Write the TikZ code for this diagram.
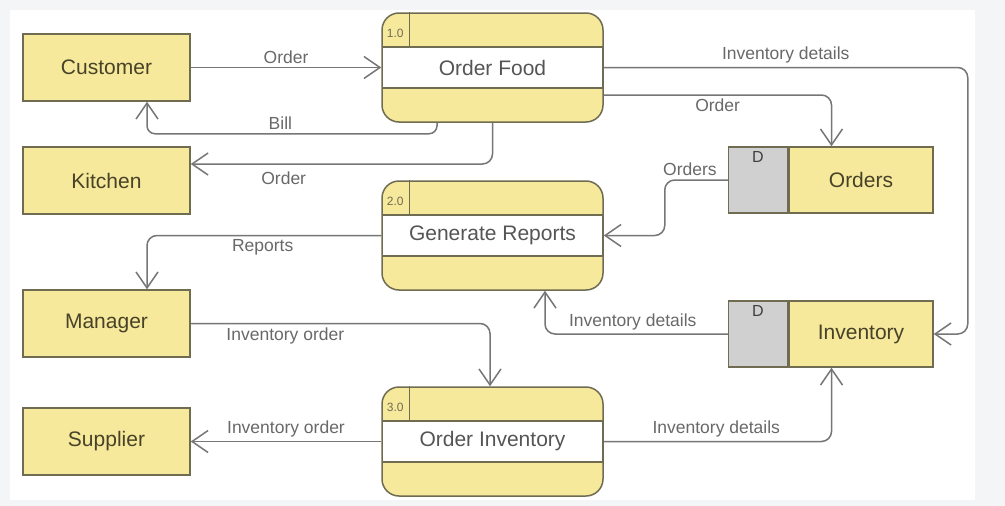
\documentclass[tikz,border=0pt]{standalone}
\usepackage{fontspec}
\setmainfont{Liberation Sans}
\usepackage{tikz}
\usetikzlibrary{arrows.meta}
\usetikzlibrary{positioning}

\definecolor{boxfill}{RGB}{246,233,156}
\definecolor{boxline}{RGB}{112,108,82}
\definecolor{storegray}{RGB}{208,208,208}
\definecolor{flowline}{RGB}{118,118,118}
\definecolor{entitytext}{RGB}{72,66,40}
\definecolor{proctext}{RGB}{85,85,85}
\definecolor{lbltext}{RGB}{105,105,105}
\definecolor{pagegray}{RGB}{244,245,247}

\tikzset{
  entity/.style={draw=boxline, fill=boxfill, line width=1.5pt, minimum width=167pt, minimum height=67pt,
    text=entitytext, font=\fontsize{21pt}{24pt}\selectfont},
  process/.style={draw=boxline, fill=boxfill, line width=1.5pt, rounded corners=17pt,
    minimum width=221pt, minimum height=109pt, text=proctext, font=\fontsize{21pt}{24pt}\selectfont,
    path picture={\draw[sharp corners, draw=boxline, line width=1.5pt, fill=white]
      ([yshift=20.5pt]path picture bounding box.west) rectangle ([yshift=-20.5pt]path picture bounding box.east);}},
  store/.style={draw=boxline, fill=boxfill, line width=1.5pt, minimum width=144pt, minimum height=66pt,
    text=entitytext, font=\fontsize{21pt}{24pt}\selectfont},
  storebox/.style={draw=boxline, fill=storegray, line width=1.5pt, minimum width=59pt, minimum height=66pt},
  idtext/.style={text=boxline, font=\fontsize{12pt}{13pt}\selectfont, inner sep=1pt},
  storeid/.style={text=black!75, font=\fontsize{16pt}{17pt}\selectfont, inner sep=1pt},
  lbl/.style={text=lbltext, font=\fontsize{17.5pt}{20pt}\selectfont},
  flow/.style={draw=flowline, line width=1.5pt, rounded corners=10pt, ->}
}

\begin{document}
\begin{tikzpicture}[x=1pt, y=-1pt, >={Straight Barb[length=16pt,width=22pt]}]
\useasboundingbox (0,0) rectangle (1005,506);
\fill[pagegray] (0,0) rectangle (1005,506);
\fill[white] (10,10) rectangle (975,500);

% external entities
\node[entity] (customer) at (106.5,67.5) {Customer};
\node[entity] (kitchen) at (106.5,180.5) {Kitchen};
\node[entity] (manager) at (106.5,323.5) {Manager};
\node[entity] (supplier) at (106.5,441.5) {Supplier};

% processes
\node[process] (food) at (492.5,67.5) {Order Food};
\draw[boxline, line width=1.5pt] ([xshift=28pt]food.north west) -- ([xshift=28pt,yshift=20.5pt]food.west);
\node[idtext] (foodid) at ([xshift=14pt,yshift=-21pt]food.north west) {1.0};
\node[process] (reports) at (492.5,235.5) {Generate Reports};
\draw[boxline, line width=1.5pt] ([xshift=28pt]reports.north west) -- ([xshift=28pt,yshift=20.5pt]reports.west);
\node[idtext] (reportsid) at ([xshift=14pt,yshift=-21pt]reports.north west) {2.0};
\node[process] (ordinv) at (492.5,441.5) {Order Inventory};
\draw[boxline, line width=1.5pt] ([xshift=28pt]ordinv.north west) -- ([xshift=28pt,yshift=20.5pt]ordinv.west);
\node[idtext] (ordinvid) at ([xshift=14pt,yshift=-21pt]ordinv.north west) {3.0};

% data stores
\node[store] (orders) at (861,180) {Orders};
\node[storebox, left=0pt of orders] (ordersbox) {};
\node[storeid, below=4pt of ordersbox.north] (ordersd) {D};
\node[store] (inventory) at (861,334) {Inventory};
\node[storebox, left=0pt of inventory] (inventorybox) {};
\node[storeid, below=4pt of inventorybox.north] (inventoryd) {D};

% flows
\draw[flow] (customer) -- node[lbl, above] {Order} (food);
\draw[flow, rounded corners=8pt] ([xshift=-55.5pt]food.south) -- ++(0,11) -| node[lbl, above, pos=0.27] {Bill} ([xshift=40.5pt]customer.south);
\draw[flow] (food.south) |- node[lbl, below=4pt, pos=0.846] {Order} ([yshift=16.5pt]kitchen.east);
\draw[flow] (food.east) -| node[lbl, above, pos=0.25] {Inventory details} ([xshift=34pt]inventory.east) -- (inventory.east);
\draw[flow] ([yshift=-27.5pt]food.east) -| node[lbl, below, pos=0.25] {Order} ([xshift=-29.5pt]orders.north);
\draw[flow] (ordersbox.west) -- node[lbl, above, pos=0.6] {Orders} ++(-63,0) |- (reports.east);
\draw[flow] (inventorybox.west) -| node[lbl, above, pos=0.26] {Inventory details} ([xshift=52.5pt]reports.south);
\draw[flow] (reports.west) -| node[lbl, below, pos=0.253] {Reports} ([xshift=40.5pt]manager.north);
\draw[flow] (manager.east) -| node[lbl, below, pos=0.158] {Inventory order} ([xshift=-2.5pt]ordinv.north);
\draw[flow] (ordinv.west) -- node[lbl, above] {Inventory order} (supplier.east);
\draw[flow] (ordinv.east) -| node[lbl, above, pos=0.247] {Inventory details} ([xshift=-29.5pt]inventory.south);
\end{tikzpicture}
\end{document}
